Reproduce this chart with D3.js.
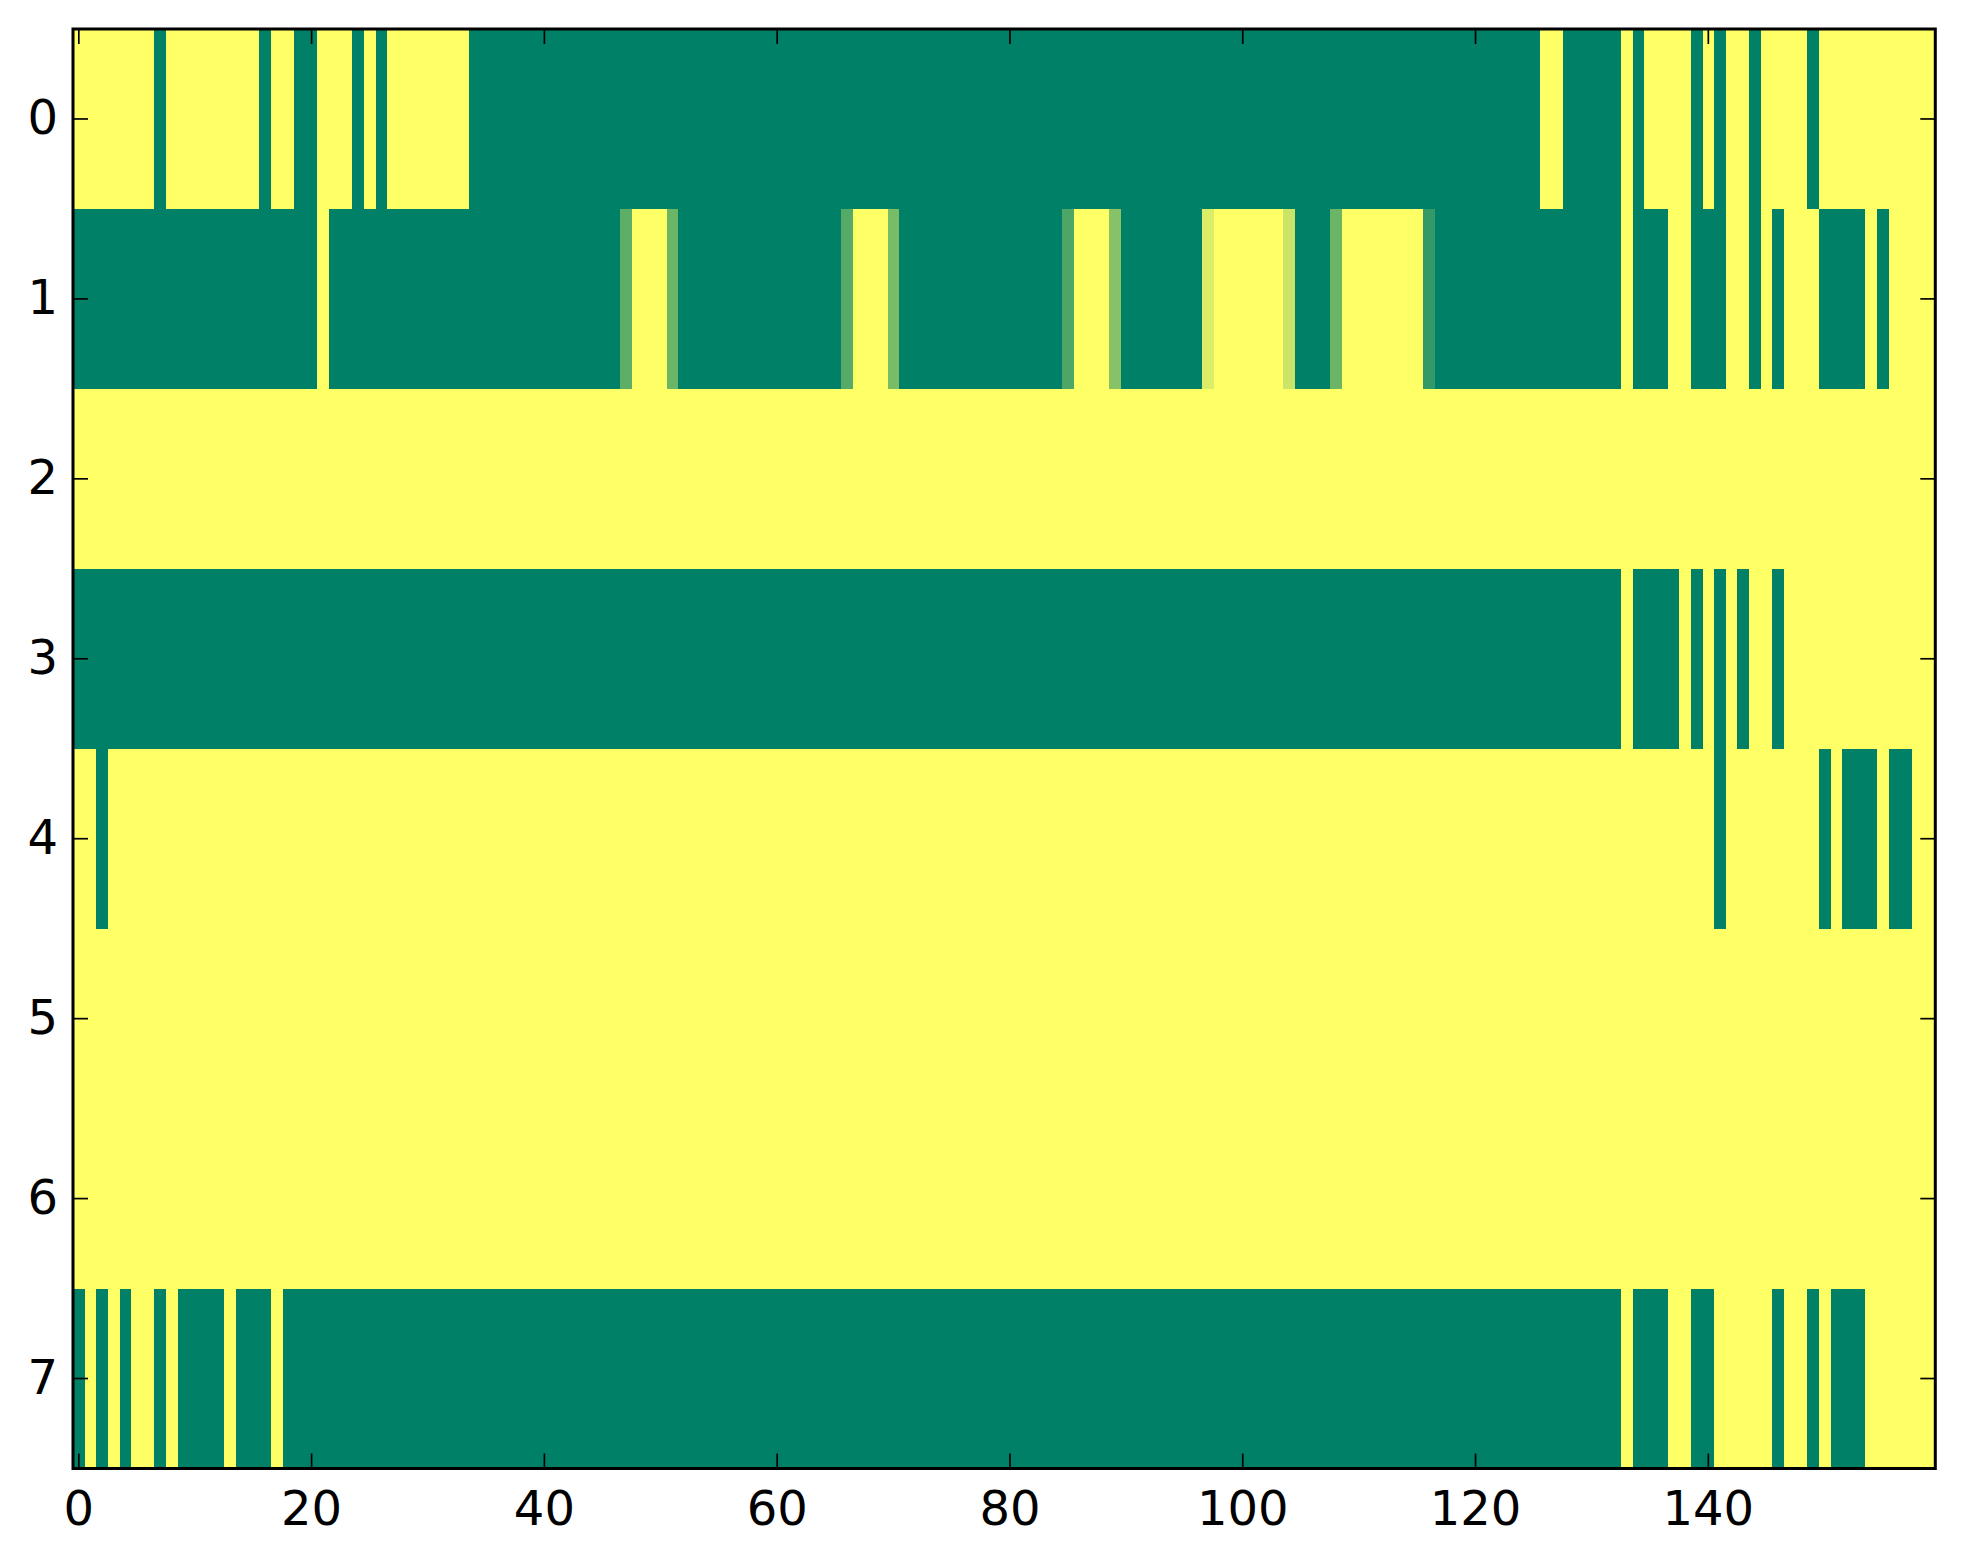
<!DOCTYPE html>
<html>
<head>
<meta charset="utf-8">
<script src="https://cdn.jsdelivr.net/npm/d3@7"></script>
<style>
  html, body { margin: 0; padding: 0; background: #ffffff; }
  svg { display: block; }
</style>
</head>
<body>
<svg id="chart" width="1963" height="1564"></svg>
<script>
// ---- Data: 8 rows x 160 columns (values 0..1, "summer" colormap) ----
const row0 = [
  1,1,1,1,1,1,1,0,1,1, 1,1,1,1,1,1,0,1,1,0, 0,1,1,1,0,1,0,1,1,1, 1,1,1,1,0,0,0,0,0,0,
  0,0,0,0,0,0,0,0,0,0, 0,0,0,0,0,0,0,0,0,0, 0,0,0,0,0,0,0,0,0,0, 0,0,0,0,0,0,0,0,0,0,
  0,0,0,0,0,0,0,0,0,0, 0,0,0,0,0,0,0,0,0,0, 0,0,0,0,0,0,0,0,0,0, 0,0,0,0,0,0,0,0,0,0,
  0,0,0,0,0,0,1,1,0,0, 0,0,0,1,0,1,1,1,1,0, 1,0,1,1,0,1,1,1,1,0, 1,1,1,1,1,1,1,1,1,1
];
const row1 = [
  0,0,0,0,0,0,0,0,0,0, 0,0,0,0,0,0,0,0,0,0, 0,1,0,0,0,0,0,0,0,0, 0,0,0,0,0,0,0,0,0,0,
  0,0,0,0,0,0,0,0.37,1,1, 1,0.42,0,0,0,0,0,0,0,0, 0,0,0,0,0,0,0.33,1,1,1, 0.47,0,0,0,0,0,0,0,0,0,
  0,0,0,0,0,0.30,1,1,1,0.53, 0,0,0,0,0,0,0,0.86,1,1, 1,1,1,1,0.79,0,0,0,0.42,1, 1,1,1,1,1,1,0.2,0,0,0,
  0,0,0,0,0,0,0,0,0,0, 0,0,0,1,0,0,0,1,1,0, 0,0,1,1,0,1,0,1,1,1, 0,0,0,0,1,0,1,1,1,1
];
const row2 = [
  1,1,1,1,1,1,1,1,1,1, 1,1,1,1,1,1,1,1,1,1, 1,1,1,1,1,1,1,1,1,1, 1,1,1,1,1,1,1,1,1,1,
  1,1,1,1,1,1,1,1,1,1, 1,1,1,1,1,1,1,1,1,1, 1,1,1,1,1,1,1,1,1,1, 1,1,1,1,1,1,1,1,1,1,
  1,1,1,1,1,1,1,1,1,1, 1,1,1,1,1,1,1,1,1,1, 1,1,1,1,1,1,1,1,1,1, 1,1,1,1,1,1,1,1,1,1,
  1,1,1,1,1,1,1,1,1,1, 1,1,1,1,1,1,1,1,1,1, 1,1,1,1,1,1,1,1,1,1, 1,1,1,1,1,1,1,1,1,1
];
const row3 = [
  0,0,0,0,0,0,0,0,0,0, 0,0,0,0,0,0,0,0,0,0, 0,0,0,0,0,0,0,0,0,0, 0,0,0,0,0,0,0,0,0,0,
  0,0,0,0,0,0,0,0,0,0, 0,0,0,0,0,0,0,0,0,0, 0,0,0,0,0,0,0,0,0,0, 0,0,0,0,0,0,0,0,0,0,
  0,0,0,0,0,0,0,0,0,0, 0,0,0,0,0,0,0,0,0,0, 0,0,0,0,0,0,0,0,0,0, 0,0,0,0,0,0,0,0,0,0,
  0,0,0,0,0,0,0,0,0,0, 0,0,0,1,0,0,0,0,1,0, 1,0,1,0,1,1,0,1,1,1, 1,1,1,1,1,1,1,1,1,1
];
const row4 = [
  1,1,0,1,1,1,1,1,1,1, 1,1,1,1,1,1,1,1,1,1, 1,1,1,1,1,1,1,1,1,1, 1,1,1,1,1,1,1,1,1,1,
  1,1,1,1,1,1,1,1,1,1, 1,1,1,1,1,1,1,1,1,1, 1,1,1,1,1,1,1,1,1,1, 1,1,1,1,1,1,1,1,1,1,
  1,1,1,1,1,1,1,1,1,1, 1,1,1,1,1,1,1,1,1,1, 1,1,1,1,1,1,1,1,1,1, 1,1,1,1,1,1,1,1,1,1,
  1,1,1,1,1,1,1,1,1,1, 1,1,1,1,1,1,1,1,1,1, 1,0,1,1,1,1,1,1,1,1, 0,1,0,0,0,1,0,0,1,1
];
const row5 = [
  1,1,1,1,1,1,1,1,1,1, 1,1,1,1,1,1,1,1,1,1, 1,1,1,1,1,1,1,1,1,1, 1,1,1,1,1,1,1,1,1,1,
  1,1,1,1,1,1,1,1,1,1, 1,1,1,1,1,1,1,1,1,1, 1,1,1,1,1,1,1,1,1,1, 1,1,1,1,1,1,1,1,1,1,
  1,1,1,1,1,1,1,1,1,1, 1,1,1,1,1,1,1,1,1,1, 1,1,1,1,1,1,1,1,1,1, 1,1,1,1,1,1,1,1,1,1,
  1,1,1,1,1,1,1,1,1,1, 1,1,1,1,1,1,1,1,1,1, 1,1,1,1,1,1,1,1,1,1, 1,1,1,1,1,1,1,1,1,1
];
const row6 = [
  1,1,1,1,1,1,1,1,1,1, 1,1,1,1,1,1,1,1,1,1, 1,1,1,1,1,1,1,1,1,1, 1,1,1,1,1,1,1,1,1,1,
  1,1,1,1,1,1,1,1,1,1, 1,1,1,1,1,1,1,1,1,1, 1,1,1,1,1,1,1,1,1,1, 1,1,1,1,1,1,1,1,1,1,
  1,1,1,1,1,1,1,1,1,1, 1,1,1,1,1,1,1,1,1,1, 1,1,1,1,1,1,1,1,1,1, 1,1,1,1,1,1,1,1,1,1,
  1,1,1,1,1,1,1,1,1,1, 1,1,1,1,1,1,1,1,1,1, 1,1,1,1,1,1,1,1,1,1, 1,1,1,1,1,1,1,1,1,1
];
const row7 = [
  0,1,0,1,0,1,1,0,1,0, 0,0,0,1,0,0,0,1,0,0, 0,0,0,0,0,0,0,0,0,0, 0,0,0,0,0,0,0,0,0,0,
  0,0,0,0,0,0,0,0,0,0, 0,0,0,0,0,0,0,0,0,0, 0,0,0,0,0,0,0,0,0,0, 0,0,0,0,0,0,0,0,0,0,
  0,0,0,0,0,0,0,0,0,0, 0,0,0,0,0,0,0,0,0,0, 0,0,0,0,0,0,0,0,0,0, 0,0,0,0,0,0,0,0,0,0,
  0,0,0,0,0,0,0,0,0,0, 0,0,0,1,0,0,0,1,1,0, 0,1,1,1,1,1,0,1,1,0, 1,0,0,0,1,1,1,1,1,1
];
const rows = [row0, row1, row2, row3, row4, row5, row6, row7];
const xTicks = [0, 20, 40, 60, 80, 100, 120, 140];
const yTicks = [0, 1, 2, 3, 4, 5, 6, 7];

// ---- Layout ----
const L = 73, R = 1935.3, T = 29, B = 1468.5;
const nCols = row0.length;
const svg = d3.select("#chart");

const x = d3.scaleLinear().domain([-0.5, nCols - 0.5]).range([L, R]);
const y = d3.scaleLinear().domain([-0.5, rows.length - 0.5]).range([T, B]);
const color = d3.scaleLinear().domain([0, 1])
  .range(["rgb(0,128,102)", "rgb(255,255,102)"])
  .interpolate(d3.interpolateRgb);

const cells = [];
rows.forEach((r, ri) => r.forEach((v, ci) => cells.push({ r: ri, c: ci, v })));

svg.append("g")
  .attr("shape-rendering", "crispEdges")
  .selectAll("rect")
  .data(cells)
  .join("rect")
  .attr("x", d => Math.round(x(d.c - 0.5)))
  .attr("y", d => Math.round(y(d.r - 0.5)))
  .attr("width", d => Math.round(x(d.c + 0.5)) - Math.round(x(d.c - 0.5)))
  .attr("height", d => Math.round(y(d.r + 0.5)) - Math.round(y(d.r - 0.5)))
  .attr("fill", d => color(d.v));

// ---- Ticks (inward, all four sides) ----
const tickLen = 15, tickW = 1.7;
const tg = svg.append("g").attr("stroke", "#000").attr("stroke-width", tickW);
xTicks.forEach(t => {
  tg.append("line").attr("x1", x(t)).attr("x2", x(t)).attr("y1", B).attr("y2", B - tickLen);
  tg.append("line").attr("x1", x(t)).attr("x2", x(t)).attr("y1", T).attr("y2", T + tickLen);
});
yTicks.forEach(t => {
  tg.append("line").attr("x1", L).attr("x2", L + tickLen).attr("y1", y(t)).attr("y2", y(t));
  tg.append("line").attr("x1", R).attr("x2", R - tickLen).attr("y1", y(t)).attr("y2", y(t));
});

// ---- Frame ----
svg.append("rect")
  .attr("x", L).attr("y", T)
  .attr("width", R - L).attr("height", B - T)
  .attr("fill", "none").attr("stroke", "#000").attr("stroke-width", 3);

// ---- Tick labels ----
const font = "'DejaVu Sans', sans-serif";
svg.append("g").selectAll("text").data(xTicks).join("text")
  .attr("x", d => x(d)).attr("y", 1525)
  .attr("text-anchor", "middle")
  .attr("font-family", font).attr("font-size", 48)
  .text(d => d);

svg.append("g").selectAll("text").data(yTicks).join("text")
  .attr("x", 58).attr("y", d => y(d) + 15)
  .attr("text-anchor", "end")
  .attr("font-family", font).attr("font-size", 48)
  .text(d => d);
</script>
</body>
</html>
